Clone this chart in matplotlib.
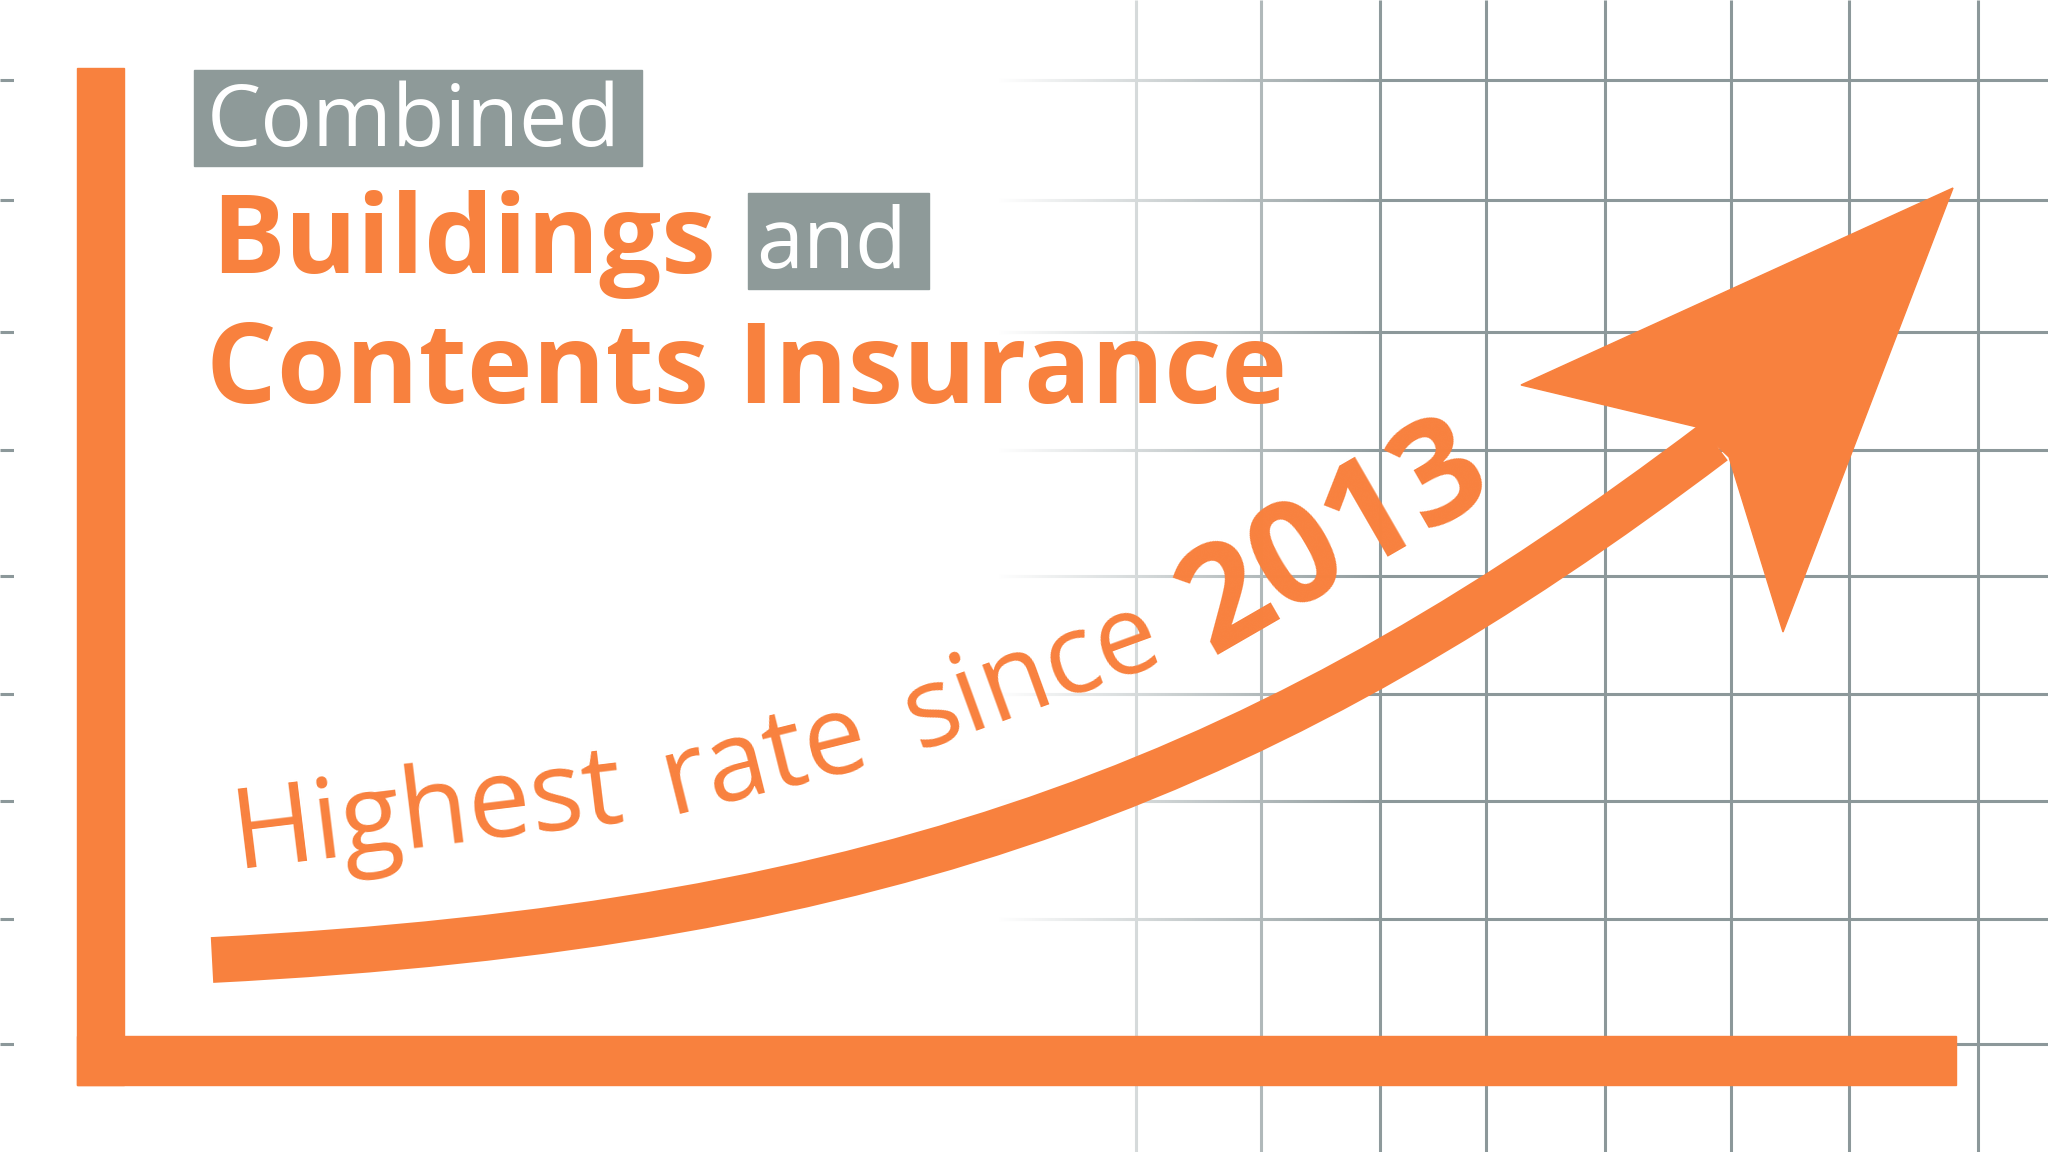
import numpy as np
import matplotlib.pyplot as plt
from matplotlib.patches import Rectangle, Polygon, PathPatch
from matplotlib.path import Path

plt.rcParams['font.family'] = ['Open Sans', 'DejaVu Sans']

orange = '#F8813E'
box_gray = '#8E9A99'
grid_gray = '#8C989A'

# grid positions (pixel units of the 2048x1152 canvas)
grid_rows = [80, 200, 332, 450, 576, 694, 801, 919, 1044]
grid_cols = [1136, 1261, 1380, 1486, 1605, 1731, 1849, 1978]

# rising curve (cubic bezier control points) and arrow head outline
curve_x = [212, 900, 1280, 1714]
curve_y = [960, 925, 770, 442]
head_x = [1953, 1521, 1697, 1729, 1783]
head_y = [188, 385, 427, 457, 632]

# caption words along the curve
caption_words = ['Highest', 'rate', 'since', '2013']
caption_x = [236, 670, 918, 1212]
caption_y = [868, 814, 750, 655]
caption_rot = [7, 14, 20, 30]
caption_weight = ['normal', 'normal', 'normal', 'bold']
caption_size = [80, 80, 80, 104]

fig = plt.figure(figsize=(20.48, 11.52), dpi=100)
ax = fig.add_axes([0, 0, 1, 1])
ax.set_xlim(0, 2048)
ax.set_ylim(1152, 0)
ax.axis('off')

# grid
ax.hlines(grid_rows, 0, 2048, color=grid_gray, lw=2.2, zorder=1)
ax.vlines(grid_cols, 0, 1152, color=grid_gray, lw=2.2, zorder=1)

# white fade over the left part of the grid
fx = np.linspace(14, 1400, 700)
fade = np.ones((1, fx.size, 4))
fade[0, :, 3] = np.clip((1390 - fx) / 390, 0, 1)
ax.imshow(fade, extent=[14, 1400, 1152, 0], aspect='auto', zorder=2, interpolation='bilinear')

# axes bars
ax.add_patch(Rectangle((77, 68), 47, 1017, color=orange, zorder=3))
ax.add_patch(Rectangle((77, 1036), 1879, 49, color=orange, zorder=3))

# title
ax.add_patch(Rectangle((194, 70), 448, 96, color=box_gray, zorder=3))
ax.text(207, 146, 'Combined', color='white', fontsize=62, fontweight='medium',
        ha='left', va='baseline', zorder=4)
ax.text(211, 273, 'Buildings', color=orange, fontsize=79, fontweight='bold',
        ha='left', va='baseline', zorder=4)
ax.add_patch(Rectangle((748, 193), 181, 96, color=box_gray, zorder=3))
ax.text(756, 268, 'and', color='white', fontsize=61, fontweight='medium',
        ha='left', va='baseline', zorder=4)
ax.text(206, 403, 'Contents Insurance', color=orange, fontsize=80, fontweight='bold',
        ha='left', va='baseline', zorder=4)

# rising arrow
verts = list(zip(curve_x, curve_y))
shaft = Path(verts, [Path.MOVETO, Path.CURVE4, Path.CURVE4, Path.CURVE4])
ax.add_patch(PathPatch(shaft, fill=False, edgecolor=orange, lw=33, capstyle='butt', zorder=5))
ax.add_patch(Polygon(list(zip(head_x, head_y)), closed=True, color=orange, zorder=5))

# caption
for word, x, y, r, w, s in zip(caption_words, caption_x, caption_y, caption_rot,
                               caption_weight, caption_size):
    ax.text(x, y, word, color=orange, fontsize=s, fontweight=w, rotation=r,
            rotation_mode='anchor', ha='left', va='baseline', zorder=6)

fig.savefig('out.png', dpi=100, facecolor='white')
